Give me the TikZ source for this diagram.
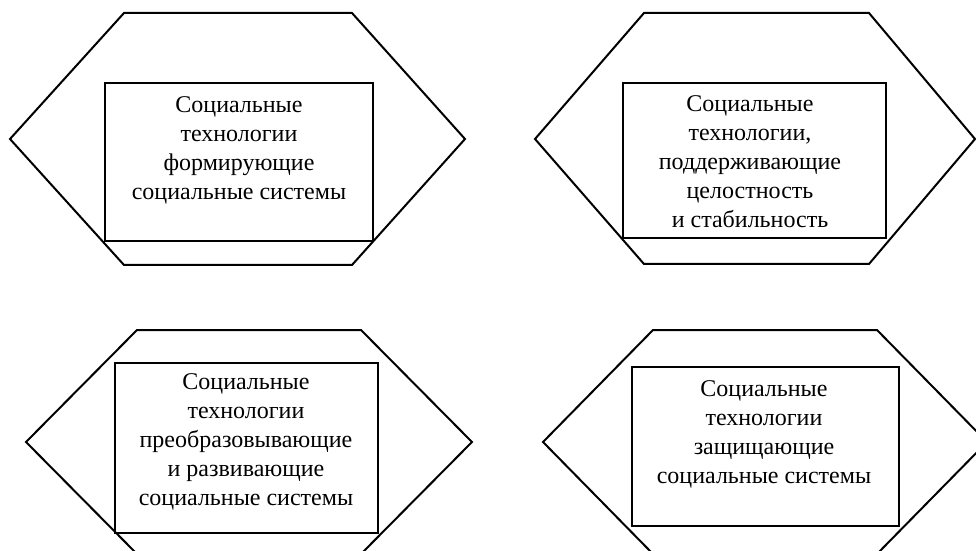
\documentclass[tikz,border=0pt]{standalone}
\usepackage{fontspec}
\setmainfont{Liberation Serif}
\begin{document}
\begin{tikzpicture}[x=0.5pt,y=-0.5pt,line width=1pt,
		techlabel/.style={align=center,inner sep=0pt,font=\fontsize{12}{14.5}\selectfont}]
		\useasboundingbox (0,0) rectangle (976,551);
		\clip (0,0) rectangle (976,551);
		% hexagons: left, top left, top right, right, top, middle, bottom
		\foreach \l/\tl/\tr/\r/\t/\m/\b in {10/124/352/465/13/139/265,
				535/644/869/975/13/139/264,
				26/137/361/472/330/442/554,
				543/653/877/987/330/442/554}{
			\draw (\l,\m) -- (\tl,\t) -- (\tr,\t) -- (\r,\m)
				-- (\tr,\b) -- (\tl,\b) -- cycle;
			}
		% inner boxes
		\draw (105,83) rectangle (373,241);
		\draw (623,83) rectangle (886,238);
		\draw (115,363) rectangle (378,533);
		\draw (632,367) rectangle (899,526);
		\node[techlabel] (form) at (239,150)
			{Социальные\\технологии\\формирующие\\социальные системы};
		\node[techlabel] (support) at (750,162)
			{Социальные\\технологии,\\поддерживающие\\целостность\\и стабильность};
		\node[techlabel] (transform) at (246,442)
			{Социальные\\технологии\\преобразовывающие\\и развивающие\\социальные системы};
		\node[techlabel] (protect) at (764,434)
			{Социальные\\технологии\\защищающие\\социальные системы};
\end{tikzpicture}
\end{document}
